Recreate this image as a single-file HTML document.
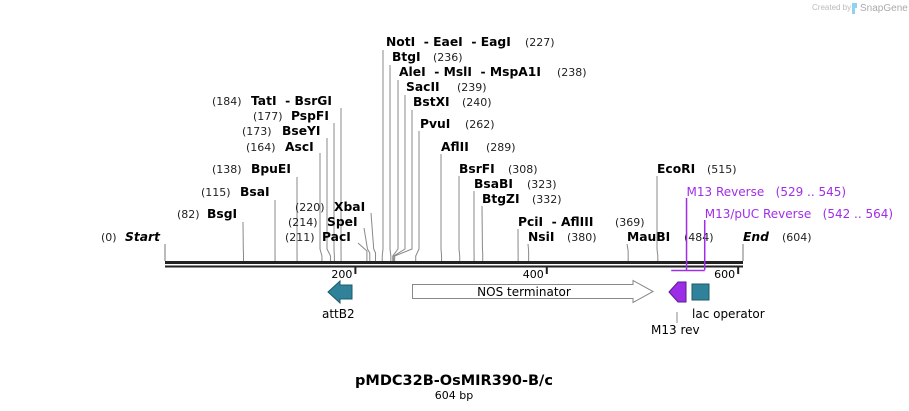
<!DOCTYPE html>
<html><head><meta charset="utf-8"><style>
html,body{margin:0;padding:0;background:#fff;}
svg{display:block;font-family:"DejaVu Sans","Liberation Sans",sans-serif;}
.b{font-weight:bold;font-size:12.3px;fill:#000}
.n{font-size:11px;fill:#222}
</style></head><body>
<svg id="map" width="909" height="411" viewBox="0 0 909 411">
<text x="812" y="10" font-size="8" fill="#bbb" font-family="Liberation Sans">Created by</text>
<path d="M852 3h5v5h-2v6h-3z" fill="#8fd3f0"/>
<text x="860" y="11" font-size="10" fill="#aaa" font-family="Liberation Sans">SnapGene</text>
<g id="sites"></g>
<rect x="165" y="261" width="578" height="3" fill="#222"/>
<rect x="165" y="265.5" width="578" height="2" fill="#222"/>
<g id="ticks"></g>
<g id="primers"></g>
<g id="features"></g>
<text x="454" y="385" text-anchor="middle" font-size="14.5" font-weight="bold">pMDC32B-OsMIR390-B/c</text>
<text x="454" y="399" text-anchor="middle" font-size="11">604 bp</text>
</svg>
<script>
const seqLength = 604;
const siteNames = ["BsgI","BsaI","BpuEI","AscI","BseYI","PspFI","TatI  - BsrGI","XbaI","SpeI","PacI","NotI  - EaeI  - EagI","BtgI","AleI  - MslI  - MspA1I","SacII","BstXI","PvuI","AflII","BsrFI","BsaBI","BtgZI","PciI  - AflIII","NsiI","MauBI","EcoRI"];
const sitePositions = [82,115,138,164,173,177,184,220,214,211,227,236,238,239,240,262,289,308,323,332,369,380,484,515];
const tickValues = [200,400,600];
const primerNames = ["M13 Reverse","M13/pUC Reverse"];
const primerStarts = [529,542];
const primerEnds = [545,564];
// layout (not data): label anchor per site
const layout = [
 [207,218,'L',177],[240,196,'L',201],[251,173,'L',212],[285,151,'L',246],[282,135,'L',242],[291,120,'L',253],
 [251,105,'L',212],[334,211,'L',295],[327,226,'L',288],[322,241,'L',285],
 [386,46,'R',525],[392,61,'R',433],[399,76,'R',557],[406,91,'R',457],[413,106,'R',462],[420,128,'R',465],
 [441,151,'R',486],[459,173,'R',508],[474,188,'R',527],[482,203,'R',532],[518,226,'R',615],[528,241,'R',567],
 [627,241,'R',684],[657,173,'R',707]];
const lineTop = [[243,222],[275,200],[297,177],[320,153],[327,138],[334,123],[341,108],[371,213],[364,228],[358,243],
 [383,50],[390,65],[398,80],[405,95],[412,110],[419,131],[441,154],[459,176],[474,191],[482,206],[518,229],[528,244],[627,244],[657,176]];
const X0=165, X1=743;
function xs(p){return X0+(X1-X0)*p/seqLength;}
const NS="http://www.w3.org/2000/svg";
function mk(tag,attrs,parent){const e=document.createElementNS(NS,tag);for(const k in attrs)e.setAttribute(k,attrs[k]);parent.appendChild(e);return e;}
const sites=document.getElementById('sites');
let t=mk('text',{x:101,y:241,class:'n'},sites);t.textContent='(0)';


t=mk('text',{x:125,y:241,class:'b','font-style':'italic'},sites);t.textContent='Start';


mk('line',{x1:165,y1:244,x2:165,y2:261,stroke:'#777'},sites);
t=mk('text',{x:743,y:241,class:'b','font-style':'italic'},sites);t.textContent='End';


t=mk('text',{x:782,y:241,class:'n'},sites);t.textContent='('+seqLength+')';


mk('line',{x1:743,y1:244,x2:743,y2:261,stroke:'#777'},sites);
siteNames.forEach((nm,i)=>{
  const [lx,ly,side,nx]=layout[i]; const sx=xs(sitePositions[i]);
  const [tx,ty]=lineTop[i];
  let pts;
  if (ty>=240) pts=`${tx},${ty} ${sx},251 ${sx},261`;
  else if (ty>=205) pts=`${tx},${ty} ${tx+(sx-tx)*0.6},249 ${sx},253 ${sx},261`;
  else pts=`${tx},${ty} ${tx},249 ${sx},256 ${sx},261`;
  const ln=mk('polyline',{points:pts,fill:'none',stroke:'#888','stroke-width':1},sites);
  
  
  const a=mk('text',{x:lx,y:ly,class:'b'},sites);a.textContent=nm;
  a.style.whiteSpace='pre';
  
  
  const b=mk('text',{x:nx,y:ly,class:'n'},sites);b.textContent='('+sitePositions[i]+')';
  
  
});
const ticks=document.getElementById('ticks');
tickValues.forEach(v=>{
  const x=xs(v)-1;
  const l=mk('line',{x1:x,y1:267,x2:x,y2:274,stroke:'#222','stroke-width':2},ticks);
  
  
  const tt=mk('text',{x:x-3,y:278,'text-anchor':'end','font-size':11},ticks);tt.textContent=v;
  
  
});
const primers=document.getElementById('primers');
const pc='#a02ee8';
const pY=[196,218];
primerNames.forEach((nm,i)=>{
  const xx = xs(primerEnds[i]);
  const l=mk('line',{x1:xx,y1:pY[i]+2,x2:xx,y2:270,stroke:pc,'stroke-width':1.5},primers);
  
  
  const tt=mk('text',{x:xx,y:pY[i],'font-size':12,fill:pc},primers);
  tt.textContent=nm+'   ('+primerStarts[i]+' .. '+primerEnds[i]+')';
  tt.style.whiteSpace='pre';
  
  
});
const br=mk('line',{x1:xs(Math.min(...primerStarts)),y1:270.5,x2:xs(Math.max(...primerEnds)),y2:270.5,stroke:pc,'stroke-width':1.5},primers);


const f=document.getElementById('features');
let e=mk('path',{d:'M328 292 L340 281 L340 285 L352 285 L352 299 L340 299 L340 303 Z',fill:'#2f8299',stroke:'#1d5a6b'},f);


e=mk('text',{x:322,y:318,'font-size':12},f);e.textContent='attB2';


e=mk('path',{d:'M412.5 284.5 L633 284.5 L633 280.5 L653 291.5 L633 302.5 L633 298.5 L412.5 298.5 Z',fill:'#fff',stroke:'#888'},f);


e=mk('text',{x:524,y:296,'font-size':12,'text-anchor':'middle'},f);e.textContent='NOS terminator';


e=mk('path',{d:'M669 292 L678 282 L686 282 L686 302 L678 302 Z',fill:'#9b2ee6',stroke:'#5a1a8a'},f);


e=mk('line',{x1:677,y1:312,x2:677,y2:323,stroke:'#888'},f);


e=mk('text',{x:651,y:334,'font-size':12},f);e.textContent='M13 rev';


e=mk('rect',{x:692,y:284,width:17,height:16,fill:'#2f8299',stroke:'#1d5a6b'},f);


e=mk('text',{x:692,y:318,'font-size':12},f);e.textContent='lac operator';


</script>
</body></html>
